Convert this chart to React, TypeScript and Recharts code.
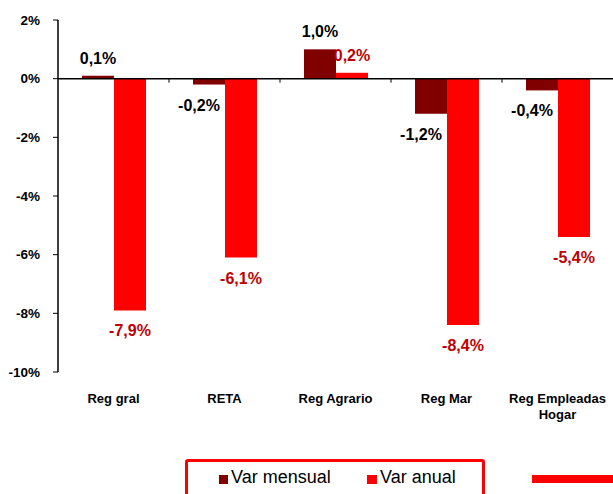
import React from 'react';
import { BarChart, Bar, XAxis, YAxis, ReferenceLine, LabelList, Legend } from 'recharts';

const categories = ['Reg gral', 'RETA', 'Reg Agrario', 'Reg Mar', 'Reg Empleadas Hogar'];
const varMensual = [0.1, -0.2, 1.0, -1.2, -0.4];
const varAnual = [-7.9, -6.1, 0.2, -8.4, -5.4];
const yTicks = [-10, -8, -6, -4, -2, 0, 2];

const data = categories.map((name, i) => ({ name, mensual: varMensual[i], anual: varAnual[i] }));

const FONT = 'Liberation Sans, Arial, sans-serif';

const fmt = (v: number) => v.toFixed(1).replace('.', ',') + '%';

const makeLabel = (color: string, negDx: number) => (props: any) => {
  const { x, y, width, height, value } = props;
  const top = Math.min(y, y + height);
  const bottom = Math.max(y, y + height);
  const neg = value < 0;
  return (
    <text
      x={x + width / 2 + (neg ? negDx : 0)}
      y={neg ? bottom + 26 : top - 12}
      textAnchor="middle"
      fill={color}
      fontSize={16}
      fontWeight="bold"
      fontFamily={FONT}
    >
      {fmt(value)}
    </text>
  );
};

const CategoryTick = (props: any) => {
  const { x, y, payload } = props;
  const lines = payload.value === 'Reg Empleadas Hogar' ? ['Reg Empleadas', 'Hogar'] : [payload.value];
  return (
    <text x={x} y={y} textAnchor="middle" fill="#000" fontSize={13} fontWeight="bold" fontFamily={FONT}>
      {lines.map((l: string, i: number) => (
        <tspan key={i} x={x} dy={i === 0 ? 23 : 16}>
          {l}
        </tspan>
      ))}
    </text>
  );
};

const ZeroLine = (props: any) => {
  const { x1, x2, y1 } = props;
  const step = (x2 - x1) / categories.length;
  return (
    <g>
      <line x1={x1} x2={x2} y1={y1} y2={y1} stroke="#000" strokeWidth={1.5} />
      {categories.slice(1).map((_, i) => (
        <line key={i} x1={x1 + step * (i + 1)} x2={x1 + step * (i + 1)} y1={y1} y2={y1 + 4} stroke="#000" strokeWidth={1} />
      ))}
    </g>
  );
};

const LegendBox = () => (
  <div style={{ position: 'relative', width: 613, height: 40, fontFamily: FONT }}>
    <div
      style={{
        position: 'absolute',
        left: 185,
        top: -1,
        width: 300,
        height: 44,
        boxSizing: 'border-box',
        border: '3.5px solid #FF0000',
        borderRadius: 3,
      }}
    >
      <span style={{ position: 'absolute', left: 31, top: 13, width: 9, height: 9, background: '#800000' }} />
      <span style={{ position: 'absolute', left: 43, top: 5, fontSize: 18, color: '#000', lineHeight: '20px' }}>Var mensual</span>
      <span style={{ position: 'absolute', left: 179, top: 13, width: 10, height: 9, background: '#FF0000' }} />
      <span style={{ position: 'absolute', left: 192, top: 5, fontSize: 18, color: '#000', lineHeight: '20px' }}>Var anual</span>
    </div>
    <div style={{ position: 'absolute', left: 532, top: 15, width: 81, height: 8, background: '#FF0000' }} />
  </div>
);

export default function App() {
  return (
    <div style={{ position: 'absolute', left: 0, top: 0, width: 613, height: 494, overflow: 'hidden', background: '#fff' }}>
      <BarChart
        width={613}
        height={494}
        data={data}
        margin={{ top: 20, right: 0, bottom: 0, left: 8 }}
        barGap={0}
        barSize={32}
      >
        <YAxis
          domain={[-10, 2]}
          ticks={yTicks}
          width={50}
          tickFormatter={(v: number) => `${v}%`}
          tick={{ fill: '#000', fontSize: 13.5, fontWeight: 'bold', fontFamily: FONT }}
          axisLine={{ stroke: '#000', strokeWidth: 1.5 }}
          tickLine={{ stroke: '#000' }}
          tickSize={5}
          tickMargin={13}
          allowDataOverflow
        />
        <XAxis dataKey="name" height={122} axisLine={false} tickLine={false} tick={<CategoryTick />} interval={0} />
        <ReferenceLine y={0} shape={<ZeroLine />} />
        <Bar dataKey="mensual" name="Var mensual" fill="#800000" isAnimationActive={false}>
          <LabelList dataKey="mensual" content={makeLabel('#000', -10)} />
        </Bar>
        <Bar dataKey="anual" name="Var anual" fill="#FF0000" isAnimationActive={false}>
          <LabelList dataKey="anual" content={makeLabel('#C00000', 0)} />
        </Bar>
        <Legend
          layout="vertical"
          align="center"
          verticalAlign="middle"
          content={<LegendBox />}
          wrapperStyle={{ left: 0, top: 460, width: 613, height: 40 }}
        />
      </BarChart>
    </div>
  );
}
